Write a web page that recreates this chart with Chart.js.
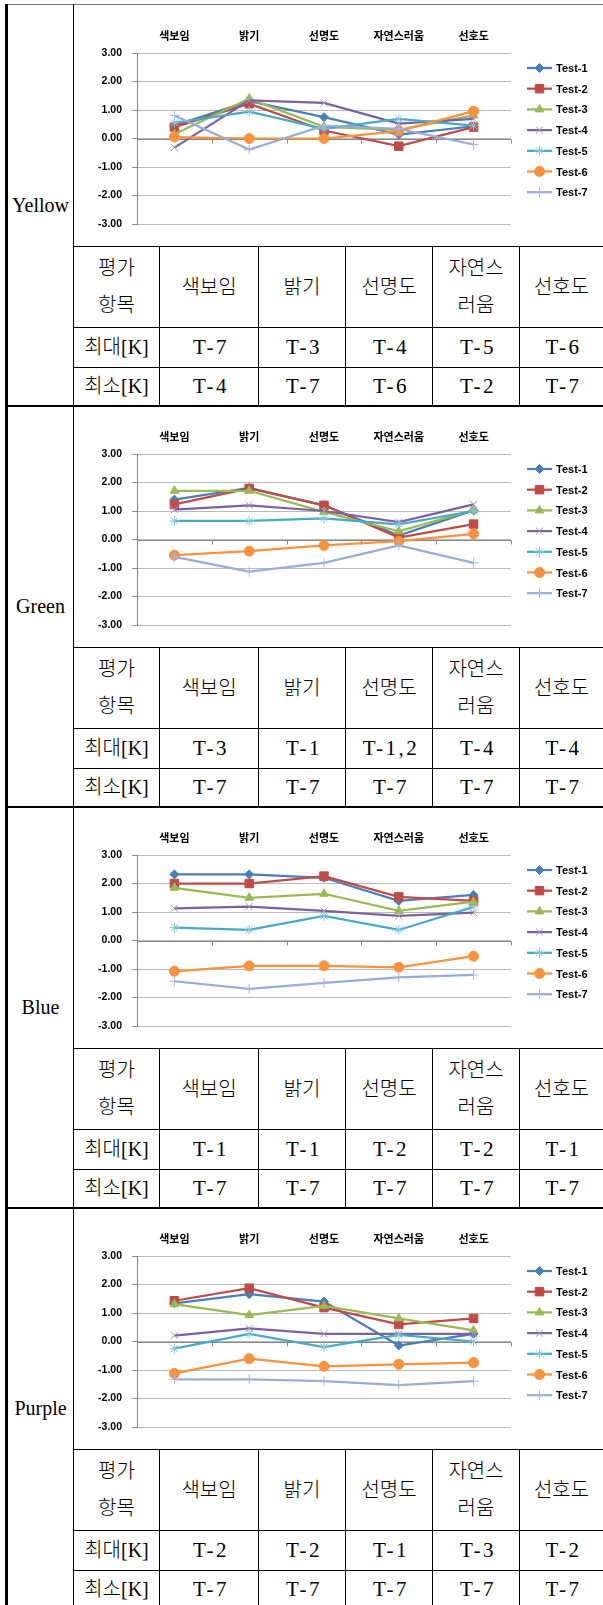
<!DOCTYPE html>
<html>
<head>
<meta charset="utf-8">
<script src="https://cdn.jsdelivr.net/npm/chart.js@4.4.0/dist/chart.umd.min.js"></script>
<style>
  body { margin: 0; background: #fff; width: 603px; height: 1605px; overflow: hidden; position: relative;
         font-family: "Liberation Serif", "Noto Sans CJK KR", serif; color: #000; }
  .ln { position: absolute; background: #000; }
  .cell { position: absolute; display: flex; align-items: center; justify-content: center;
          text-align: center; font-size: 20px; line-height: 37px; font-weight: 300; }
  .val { font-size: 21px; letter-spacing: 2.5px; padding-left: 2px; }
  canvas { position: absolute; }
</style>
</head>
<body>
<script>
// ---- data ----
const categories = ['색보임', '밝기', '선명도', '자연스러움', '선호도'];
const seriesNames = ['Test-1', 'Test-2', 'Test-3', 'Test-4', 'Test-5', 'Test-6', 'Test-7'];
const yTickValues = [3, 2, 1, 0, -1, -2, -3];
const colorNames = ['Yellow', 'Green', 'Blue', 'Purple'];
const tableHead = ['평가<br>항목', '색보임', '밝기', '선명도', '자연스<br>러움', '선호도'];

// values per test (rows) for each category (columns)
const yellowData = [
  [0.45, 1.31, 0.75, 0.14, 0.43],
  [0.40, 1.22, 0.28, -0.27, 0.40],
  [0.15, 1.40, 0.41, 0.30, 0.81],
  [-0.32, 1.34, 1.25, 0.52, 0.69],
  [0.55, 0.94, 0.34, 0.69, 0.45],
  [0.05, 0.00, 0.00, 0.26, 0.96],
  [0.81, -0.39, 0.45, 0.34, -0.21]
];
const greenData = [
  [1.40, 1.81, 1.20, 0.14, 1.02],
  [1.23, 1.79, 1.20, 0.07, 0.54],
  [1.71, 1.71, 0.97, 0.29, 1.03],
  [1.05, 1.20, 1.00, 0.61, 1.23],
  [0.65, 0.65, 0.74, 0.53, 1.00],
  [-0.55, -0.41, -0.21, -0.06, 0.20],
  [-0.61, -1.13, -0.82, -0.21, -0.82]
];
const blueData = [
  [2.32, 2.32, 2.20, 1.39, 1.60],
  [2.00, 2.00, 2.26, 1.53, 1.39],
  [1.85, 1.50, 1.64, 1.04, 1.36],
  [1.13, 1.19, 1.04, 0.86, 0.98],
  [0.45, 0.37, 0.86, 0.37, 1.18],
  [-1.08, -0.89, -0.89, -0.94, -0.55],
  [-1.43, -1.70, -1.49, -1.29, -1.21]
];
const purpleData = [
  [1.34, 1.66, 1.40, -0.14, 0.27],
  [1.43, 1.87, 1.19, 0.60, 0.81],
  [1.31, 0.93, 1.25, 0.81, 0.39],
  [0.21, 0.46, 0.27, 0.27, 0.27],
  [-0.25, 0.27, -0.20, 0.23, 0.00],
  [-1.12, -0.60, -0.87, -0.80, -0.74],
  [-1.33, -1.33, -1.39, -1.53, -1.39]
];

const yellowMax = ['T-7', 'T-3', 'T-4', 'T-5', 'T-6'];
const yellowMin = ['T-4', 'T-7', 'T-6', 'T-2', 'T-7'];
const greenMax = ['T-3', 'T-1', 'T-1,2', 'T-4', 'T-4'];
const greenMin = ['T-7', 'T-7', 'T-7', 'T-7', 'T-7'];
const blueMax = ['T-1', 'T-1', 'T-2', 'T-2', 'T-1'];
const blueMin = ['T-7', 'T-7', 'T-7', 'T-7', 'T-7'];
const purpleMax = ['T-2', 'T-2', 'T-1', 'T-3', 'T-2'];
const purpleMin = ['T-7', 'T-7', 'T-7', 'T-7', 'T-7'];

// ---- styles ----
const lineColors = ['#4a7ebb', '#be4b48', '#98b954', '#7d60a0', '#46aac5', '#f69240', '#98acd8'];
const markColors = ['#4a7ebb', '#be4b48', '#98b954', '#a795c4', '#86c8dc', '#f69240', '#a6b8e0'];
const markStyles = ['rectRot', 'rect', 'triangle', 'crossRot', 'star', 'circle', 'cross'];
const markSizes = [4.5, 6, 5, 5, 5, 5, 5];

const sections = [
  { name: colorNames[0], data: yellowData, max: yellowMax, min: yellowMin },
  { name: colorNames[1], data: greenData, max: greenMax, min: greenMin },
  { name: colorNames[2], data: blueData, max: blueMax, min: blueMin },
  { name: colorNames[3], data: purpleData, max: purpleMax, min: purpleMin }
];

const SEC_TOP = 5, SEC_H = 401, CHART_H = 241, HEAD_H = 81, ROW_H = 40;
const colX = [73, 159, 258, 345, 432, 519, 603];

function line(x, y, w, h, color) {
  const d = document.createElement('div');
  d.className = 'ln';
  d.style.cssText = `left:${x}px;top:${y}px;width:${w}px;height:${h}px;` + (color ? `background:${color};` : '');
  document.body.appendChild(d);
}
function cell(x, y, w, h, html, cls) {
  const d = document.createElement('div');
  d.className = 'cell' + (cls ? ' ' + cls : '');
  d.style.cssText = `left:${x}px;top:${y}px;width:${w}px;height:${h}px;`;
  d.innerHTML = html;
  document.body.appendChild(d);
}

// excel-like horizontal axis crossing at zero, with tick marks between categories
const zeroAxis = {
  id: 'zeroAxis',
  beforeDatasetsDraw(chart) {
    const { ctx, chartArea, scales } = chart;
    const y0 = Math.round(scales.y.getPixelForValue(0)) + 0.5;
    const n = chart.data.labels.length;
    const step = (chartArea.right - chartArea.left) / n;
    ctx.save();
    ctx.strokeStyle = '#868686';
    ctx.lineWidth = 1;
    ctx.beginPath();
    ctx.moveTo(chartArea.left, y0);
    ctx.lineTo(chartArea.right, y0);
    for (let k = 1; k <= n; k++) {
      const x = Math.round(chartArea.left + k * step) + 0.5;
      ctx.moveTo(x, y0);
      ctx.lineTo(x, y0 + 4);
    }
    ctx.stroke();
    ctx.restore();
  }
};

// legend with line + marker, stacked at the right
const lineLegend = {
  id: 'lineLegend',
  afterDraw(chart) {
    const { ctx } = chart;
    ctx.save();
    chart.data.datasets.forEach((ds, i) => {
      const y = 63 + i * 20.7;
      ctx.strokeStyle = ds.borderColor;
      ctx.lineWidth = 2.25;
      ctx.beginPath();
      ctx.moveTo(453, y);
      ctx.lineTo(478, y);
      ctx.stroke();
      ctx.fillStyle = ds.pointBackgroundColor;
      ctx.strokeStyle = ds.pointBorderColor;
      ctx.lineWidth = 1;
      Chart.helpers.drawPoint(ctx, { pointStyle: ds.pointStyle, radius: ds.pointRadius, rotation: 0, borderWidth: 1 }, 465.5, y);
      ctx.fillStyle = '#000';
      ctx.font = 'bold 11px "Liberation Sans", Arial, sans-serif';
      ctx.textBaseline = 'middle';
      ctx.textAlign = 'left';
      ctx.fillText(ds.label, 482, y + 1);
    });
    ctx.restore();
  }
};

// outer frame
line(5, 4, 598, 1, '#777');
line(5, 4, 3, 1601);
line(73, 4, 1, 1601);

sections.forEach((sec, s) => {
  const top = SEC_TOP + SEC_H * s;
  const hTop = top + CHART_H;
  const r1 = hTop + HEAD_H;
  const r2 = r1 + ROW_H;
  const bottom = top + SEC_H;

  line(73, hTop, 530, 1);
  line(73, r1, 530, 1);
  line(73, r2, 530, 1);
  line(5, bottom - 1, 598, 2);
  for (let c = 1; c <= 5; c++) line(colX[c], hTop, 1, SEC_H - CHART_H);

  cell(8, top, 65, SEC_H, sec.name);
  for (let c = 0; c < 6; c++) {
    const x = colX[c] + 1, w = colX[c + 1] - colX[c] - 1;
    cell(x, hTop + 1, w, HEAD_H - 1, tableHead[c]);
    cell(x, r1 + 1, w, ROW_H - 1, c === 0 ? '최대[K]' : sec.max[c - 1], c === 0 ? '' : 'val');
    cell(x, r2 + 1, w, bottom - r2 - 2, c === 0 ? '최소[K]' : sec.min[c - 1], c === 0 ? '' : 'val');
  }

  const cv = document.createElement('canvas');
  cv.width = 529; cv.height = CHART_H;
  cv.style.left = '74px'; cv.style.top = top + 'px';
  document.body.appendChild(cv);

  new Chart(cv, {
    type: 'line',
    data: {
      labels: categories,
      datasets: sec.data.map((vals, i) => ({
        label: seriesNames[i],
        data: vals,
        borderColor: lineColors[i],
        borderWidth: 2.25,
        pointStyle: markStyles[i],
        pointRadius: markSizes[i],
        pointBackgroundColor: markColors[i],
        pointBorderColor: markColors[i],
        pointBorderWidth: 1,
        tension: 0,
        order: 7 - i
      }))
    },
    options: {
      responsive: false,
      animation: false,
      devicePixelRatio: 1,
      layout: { padding: { left: 0, right: 92, top: 0, bottom: 22 } },
      plugins: { legend: { display: false }, tooltip: { enabled: false } },
      scales: {
        x: {
          position: 'top',
          offset: true,
          grid: { display: false, drawTicks: false },
          border: { display: false },
          ticks: { color: '#000', padding: 11, font: { family: '"Noto Sans CJK KR"', size: 11, weight: 'bold' } },
          afterFit: (sc) => { sc.height = 48; }
        },
        y: {
          min: yTickValues[yTickValues.length - 1],
          max: yTickValues[0],
          afterBuildTicks: (sc) => { sc.ticks = yTickValues.map(v => ({ value: v })); },
          grid: { color: '#b9b9b9', tickColor: '#868686', tickLength: 5 },
          border: { display: true, color: '#868686' },
          ticks: {
            color: '#000', padding: 10,
            font: { family: '"Liberation Sans", Arial, sans-serif', size: 10.5, weight: 'bold' },
            callback: (v) => Number(v).toFixed(2)
          },
          afterFit: (sc) => { sc.width = 63; }
        }
      }
    },
    plugins: [zeroAxis, lineLegend]
  });
});
</script>
</body>
</html>
